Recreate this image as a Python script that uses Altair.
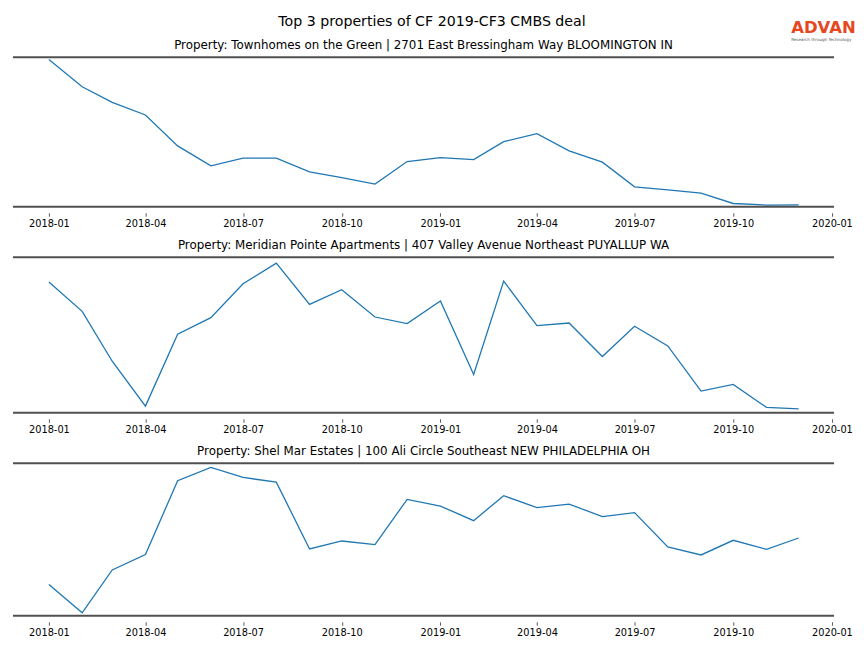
import altair as alt
import pandas as pd

# ---- data ----
months = ["2018-01-01", "2018-02-01", "2018-03-01", "2018-04-01", "2018-05-01", "2018-06-01",
          "2018-07-01", "2018-08-01", "2018-09-01", "2018-10-01", "2018-11-01", "2018-12-01",
          "2019-01-01", "2019-02-01", "2019-03-01", "2019-04-01", "2019-05-01", "2019-06-01",
          "2019-07-01", "2019-08-01", "2019-09-01", "2019-10-01", "2019-11-01", "2019-12-01"]

townhomes = [147.7, 120.3, 104.7, 92.0, 61.0, 41.0, 48.7, 48.7, 35.0, 29.3, 22.7, 45.3,
             49.3, 47.3, 65.3, 73.3, 56.0, 44.7, 20.0, 17.0, 13.7, 3.3, 1.7, 2.0]
meridian = [131.0, 101.7, 51.7, 6.7, 78.7, 95.4, 129.4, 150.0, 108.7, 123.4, 96.0, 89.4,
            112.0, 38.4, 132.0, 87.4, 90.0, 56.4, 86.7, 67.0, 21.7, 28.4, 5.4, 4.0]
shelmar = [31.4, 3.0, 46.0, 61.4, 135.4, 148.7, 138.7, 134.0, 67.0, 75.0, 71.4, 116.7,
           110.0, 95.4, 120.4, 108.4, 112.0, 99.4, 103.4, 69.0, 61.0, 75.7, 66.7, 78.0]

series = [townhomes, meridian, shelmar]
y_max = [150, 156, 153]
subtitles = [
    "Property: Townhomes on the Green | 2701 East Bressingham Way BLOOMINGTON IN",
    "Property: Meridian Pointe Apartments | 407 Valley Avenue Northeast PUYALLUP WA",
    "Property: Shel Mar Estates | 100 Ali Circle Southeast NEW PHILADELPHIA OH",
]
main_title = ["Top 3 properties of CF 2019-CF3 CMBS deal"]
logo_text = ["ADVAN"]
logo_tag = ["Research through Technology"]
tick_dates = [(2018, 1), (2018, 4), (2018, 7), (2018, 10), (2019, 1), (2019, 4),
              (2019, 7), (2019, 10), (2020, 1)]

# ---- styling ----
W = 823
FONT = "DejaVu Sans"
SPINE = "#505050"
LINE = "#1f77b4"

x_scale = alt.Scale(type="utc",
                    domain=[alt.DateTime(year=2017, month=11, date=28, hours=12, utc=True),
                            alt.DateTime(year=2020, month=1, date=3, utc=True)])
x_axis = alt.Axis(values=[alt.DateTime(year=y, month=m, date=1, utc=True) for y, m in tick_dates],
                  labelExpr="utcFormat(datum.value, '%Y-%m')", title=None, domain=False,
                  grid=False, tickSize=3.5, tickWidth=0.8, tickColor="#333333", offset=6,
                  labelFont=FONT, labelFontSize=9.8, labelColor="black", labelPadding=2,
                  labelFlush=False, labelOverlap=False)


def panel(i):
    H = y_max[i]
    df = pd.DataFrame({"date": months, "value": series[i]})
    line = alt.Chart(df).mark_line(color=LINE, strokeWidth=1.3).encode(
        x=alt.X("date:T", scale=x_scale, axis=x_axis),
        y=alt.Y("value:Q", scale=alt.Scale(domain=[0, H], nice=False, zero=False), axis=None),
    )
    one = pd.DataFrame({"k": [0]})
    top = alt.Chart(one).mark_rule(color=SPINE, strokeWidth=2).encode(
        x=alt.value(0), x2=alt.value(W), y=alt.value(0))
    bottom = alt.Chart(one).mark_rule(color=SPINE, strokeWidth=2).encode(
        x=alt.value(0), x2=alt.value(W), y=alt.value(H))
    sub = alt.Chart(pd.DataFrame({"t": [subtitles[i]]})).mark_text(
        font=FONT, fontSize=11.9, color="black", align="center", baseline="alphabetic"
    ).encode(text="t:N", x=alt.value(W / 2), y=alt.value(-8.5))
    layers = [line, top, bottom, sub]
    if i == 0:
        mt = alt.Chart(pd.DataFrame({"t": main_title})).mark_text(
            font=FONT, fontSize=14.2, color="black", align="center", baseline="alphabetic"
        ).encode(text="t:N", x=alt.value(420), y=alt.value(-31))
        lg = alt.Chart(pd.DataFrame({"t": logo_text})).mark_text(
            font=FONT, fontSize=16.5, fontWeight="bold", color="#e5481f", align="left",
            baseline="alphabetic"
        ).encode(text="t:N", x=alt.value(780), y=alt.value(-24))
        tg = alt.Chart(pd.DataFrame({"t": logo_tag})).mark_text(
            font=FONT, fontSize=4.1, color="#555555", align="left", baseline="alphabetic"
        ).encode(text="t:N", x=alt.value(780), y=alt.value(-16))
        layers += [mt, lg, tg]
    return alt.layer(*layers).properties(width=W, height=H)


chart = alt.vconcat(panel(0), panel(1), panel(2), spacing=9.5).properties(
    padding={"left": 4, "top": 6.5, "right": 0, "bottom": 0}
).configure_view(stroke=None)

chart.save("out.html", embed_options={"renderer": "svg", "actions": False})
